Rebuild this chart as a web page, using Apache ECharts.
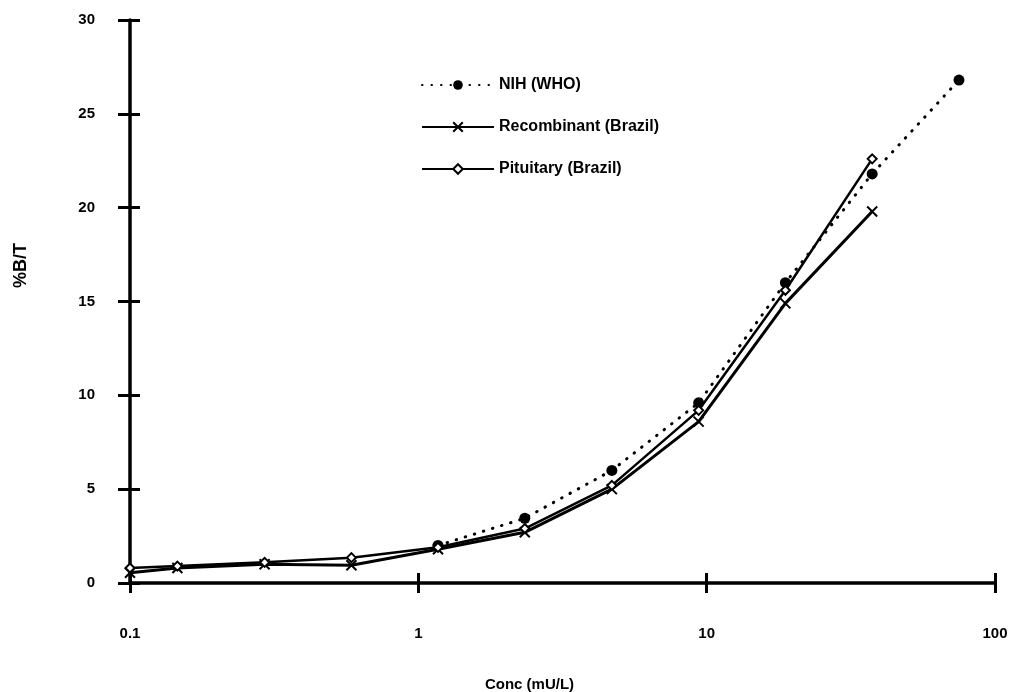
<!DOCTYPE html>
<html>
<head>
<meta charset="utf-8">
<script src="https://cdn.jsdelivr.net/npm/echarts@6/dist/echarts.min.js"></script>
<style>html,body{margin:0;padding:0;background:#fff;}#c{width:1022px;height:692px;}</style>
</head>
<body>
<div id="c"></div>
<script>
// Data (concentration mU/L, %B/T)
const nihConc = [1.17, 2.34, 4.69, 9.38, 18.75, 37.5, 75];
const nihVals = [2.0, 3.45, 6.0, 9.6, 16.0, 21.8, 26.8];
const recConc = [0.1, 0.146, 0.293, 0.586, 1.17, 2.34, 4.69, 9.38, 18.75, 37.5];
const recVals = [0.55, 0.8, 1.0, 0.95, 1.8, 2.7, 5.0, 8.6, 14.9, 19.8];
const pitConc = [0.1, 0.146, 0.293, 0.586, 1.17, 2.34, 4.69, 9.38, 18.75, 37.5];
const pitVals = [0.8, 0.9, 1.1, 1.35, 1.9, 2.9, 5.2, 9.2, 15.6, 22.6];
const xTicks = [0.1, 1, 10, 100];
const yTicks = [0, 5, 10, 15, 20, 25, 30];
const seriesNames = ['NIH (WHO)', 'Recombinant (Brazil)', 'Pituitary (Brazil)'];

const pair = (xs, ys) => xs.map((x, i) => [x, ys[i]]);
const font = 'Liberation Sans, Arial, sans-serif';

const chart = echarts.init(document.getElementById('c'));
chart.setOption({
  animation: false,
  backgroundColor: '#fff',
  grid: { left: 130, right: 27, top: 20, bottom: 109, outerBoundsMode: 'none', containLabel: false },
  legend: {
    orient: 'vertical', left: 416, top: 72,
    itemWidth: 72, itemHeight: 12, itemGap: 26,
    data: seriesNames,
    textStyle: { fontFamily: font, fontSize: 16, color: '#000', fontWeight: 'bold' }
  },
  xAxis: [{
    type: 'log', logBase: 10, min: 0.1, max: 100,
    position: 'bottom',
    axisLine: { show: true, lineStyle: { color: '#000', width: 3.5 } },
    axisTick: { show: true, length: 10, lineStyle: { color: '#000', width: 3 } },
    minorTick: { show: false },
    splitLine: { show: false },
    axisLabel: { margin: 43, fontFamily: font, fontSize: 15, fontWeight: 'bold', color: '#000',
      formatter: v => { const t = xTicks.find(k => Math.abs(k - v) / k < 1e-6); return t === undefined ? '' : String(t); } },
    name: 'Conc (mU/L)', nameLocation: 'middle', nameGap: 94,
    nameTextStyle: { fontFamily: font, fontSize: 15, fontWeight: 'bold', color: '#000', padding: [0, 66, 0, 0] }
  }, {
    type: 'log', logBase: 10, min: 0.1, max: 100, position: 'bottom',
    axisLine: { show: false },
    axisTick: { show: true, inside: true, length: 10, lineStyle: { color: '#000', width: 3 } },
    axisLabel: { show: false }, splitLine: { show: false }
  }],
  yAxis: [{
    type: 'value', min: 0, max: 30, interval: 5,
    axisLine: { show: true, lineStyle: { color: '#000', width: 3.5 } },
    axisTick: { show: true, length: 12, lineStyle: { color: '#000', width: 3 } },
    splitLine: { show: false },
    axisLabel: { margin: 35, fontFamily: font, fontSize: 15, fontWeight: 'bold', color: '#000',
      formatter: v => yTicks.includes(v) ? String(v) : '' },
    name: '%B/T', nameLocation: 'middle', nameGap: 100, nameRotate: 90,
    nameTextStyle: { fontFamily: font, fontSize: 18, fontWeight: 'bold', color: '#000', padding: [0, 0, 0, 72] }
  }, {
    type: 'value', min: 0, max: 30, interval: 5, position: 'left',
    axisLine: { show: false },
    axisTick: { show: true, inside: true, length: 10, lineStyle: { color: '#000', width: 3 } },
    axisLabel: { show: false }, splitLine: { show: false }
  }],
  series: [{
    name: seriesNames[0], type: 'line', data: pair(nihConc, nihVals),
    symbol: 'circle', symbolSize: 11,
    lineStyle: { color: '#000', width: 3, type: [0.5, 9], cap: 'round' },
    itemStyle: { color: '#000' }
  }, {
    name: seriesNames[1], type: 'line', data: pair(recConc, recVals),
    symbol: 'path://M0,0L10,10M10,0L0,10', symbolSize: 10,
    lineStyle: { color: '#000', width: 3 },
    itemStyle: { color: '#000', borderColor: '#000', borderWidth: 2 }
  }, {
    name: seriesNames[2], type: 'line', data: pair(pitConc, pitVals),
    symbol: 'emptyDiamond', symbolSize: 9,
    lineStyle: { color: '#000', width: 2.5 },
    itemStyle: { color: '#000', borderColor: '#000', borderWidth: 2 }
  }]
});
</script>
</body>
</html>
